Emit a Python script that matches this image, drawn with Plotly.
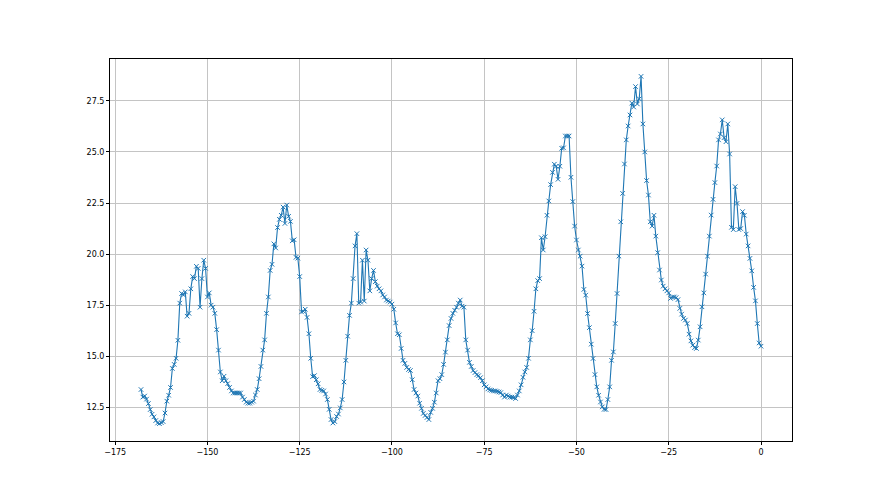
import plotly.graph_objects as go

# Readings every 0.5 h from -168 h to 0 h
step_hours = 0.5
temps = [
    13.37, 13.0, 13.05, 12.9, 12.68, 12.39, 12.16, 12.03, 11.85, 11.73,
    11.7, 11.75, 11.8, 12.22, 12.8, 13.09, 13.47, 14.4, 14.6, 14.9,
    15.78, 17.6, 18.07, 18.0, 18.15, 16.96, 17.1, 18.3, 18.9, 18.8,
    19.4, 19.3, 17.4, 18.8, 19.7, 19.3, 17.9, 18.1, 17.5, 17.4,
    17.1, 16.3, 15.3, 14.23, 13.8, 14.02, 13.8, 13.66, 13.47, 13.3,
    13.2, 13.2, 13.2, 13.2, 13.2, 13.0, 12.88, 12.75, 12.7, 12.7,
    12.75, 12.8, 13.1, 13.37, 13.9, 14.5, 15.3, 15.8, 17.1, 17.9,
    19.2, 19.5, 20.5, 20.3, 21.3, 21.7, 21.9, 22.3, 21.5, 22.4,
    21.85, 21.6, 20.65, 20.7, 19.84, 19.8, 18.9, 17.17, 17.2, 17.3,
    16.9, 16.1, 14.9, 14.0, 14.05, 13.85, 13.65, 13.37, 13.33, 13.3,
    13.15, 12.88, 12.4, 11.9, 11.73, 11.8, 12.05, 12.17, 12.47, 12.88,
    13.74, 14.8, 15.98, 17.0, 17.6, 18.8, 20.4, 21.0, 17.6, 17.65,
    19.7, 17.7, 20.2, 19.7, 18.2, 18.8, 19.2, 18.65, 18.43, 18.3,
    18.2, 18.0, 17.9, 17.75, 17.7, 17.65, 17.55, 17.3, 16.63, 16.1,
    16.05, 15.38, 14.8, 14.65, 14.45, 14.35, 14.3, 13.85, 13.37, 13.2,
    13.05, 12.7, 12.45, 12.2, 12.1, 12.0, 11.9, 12.25, 12.45, 12.75,
    13.2, 13.8, 13.9, 14.1, 14.6, 15.2, 15.8, 16.5, 16.85, 17.1,
    17.25, 17.4, 17.6, 17.75, 17.45, 17.4, 15.8, 15.3, 14.7, 14.5,
    14.3, 14.2, 14.1, 14.05, 13.95, 13.8, 13.6, 13.5, 13.4, 13.35,
    13.33, 13.3, 13.3, 13.28, 13.25, 13.22, 13.1, 13.0, 13.1, 13.05,
    13.0, 13.0, 12.98, 12.93, 13.1, 13.3, 13.6, 13.97, 14.23, 14.45,
    14.9, 15.8, 16.25, 17.2, 18.3, 18.7, 18.8, 20.8, 20.2, 20.85,
    21.9, 22.6, 23.4, 24.0, 24.4, 24.3, 23.66, 24.3, 25.18, 25.2,
    25.78, 25.78, 25.78, 23.76, 22.57, 21.37, 20.69, 20.2, 19.9, 19.41,
    18.27, 17.99, 17.09, 16.4, 15.59, 14.89, 14.1, 13.5, 13.09, 12.76,
    12.52, 12.4, 12.39, 12.88, 13.5, 14.8, 15.21, 16.6, 18.07, 19.9,
    21.58, 22.97, 24.41, 25.59, 26.27, 26.81, 27.39, 27.2, 28.2, 27.35,
    27.6, 28.7, 26.37, 25.0, 23.6, 22.89, 21.58, 21.37, 21.9, 20.88,
    20.07, 19.22, 18.73, 18.43, 18.3, 18.2, 18.1, 17.83, 17.9, 17.9,
    17.87, 17.77, 17.34, 17.06, 16.85, 16.77, 16.6, 16.08, 15.75, 15.54,
    15.42, 15.38, 15.79, 16.44, 17.42, 18.1, 19.02, 19.9, 20.88, 21.91,
    22.68, 23.5, 24.31, 25.59, 25.88, 26.57, 25.7, 25.5, 26.37, 24.9,
    21.31, 21.2, 23.3, 22.48, 21.2, 21.25, 22.08, 21.9, 20.98, 20.4,
    19.79, 19.18, 18.37, 17.71, 16.6, 15.65, 15.49,
]
n = len(temps)
hours = [-(n - 1 - i) * step_hours for i in range(n)]

x_ticks = [-175, -150, -125, -100, -75, -50, -25, 0]
y_ticks = [12.5, 15.0, 17.5, 20.0, 22.5, 25.0, 27.5]

color = "#1f77b4"
fig = go.Figure()
fig.add_trace(go.Scatter(
    x=hours, y=temps, mode="lines+markers",
    line=dict(color=color, width=1.1),
    marker=dict(symbol="x-thin", size=4.5, color=color,
                line=dict(color=color, width=1)),
    showlegend=False,
))

axis_common = dict(
    showline=True, linecolor="black", linewidth=1, mirror=True,
    ticks="outside", ticklen=3, tickcolor="black", tickwidth=1,
    showgrid=True, gridcolor="#c4c4c4", gridwidth=0.8,
    zeroline=False,
    tickfont=dict(family="DejaVu Sans", size=8, color="black"),
)

fig.update_xaxes(range=[-176.4, 8.4], tickvals=x_ticks, **axis_common)
fig.update_yaxes(range=[10.85, 29.55], tickvals=y_ticks, tickformat=".1f", **axis_common)

fig.update_layout(
    width=880, height=495,
    margin=dict(l=102, r=96, t=51, b=62),
    paper_bgcolor="white", plot_bgcolor="white",
)

fig.write_html("out.html")
